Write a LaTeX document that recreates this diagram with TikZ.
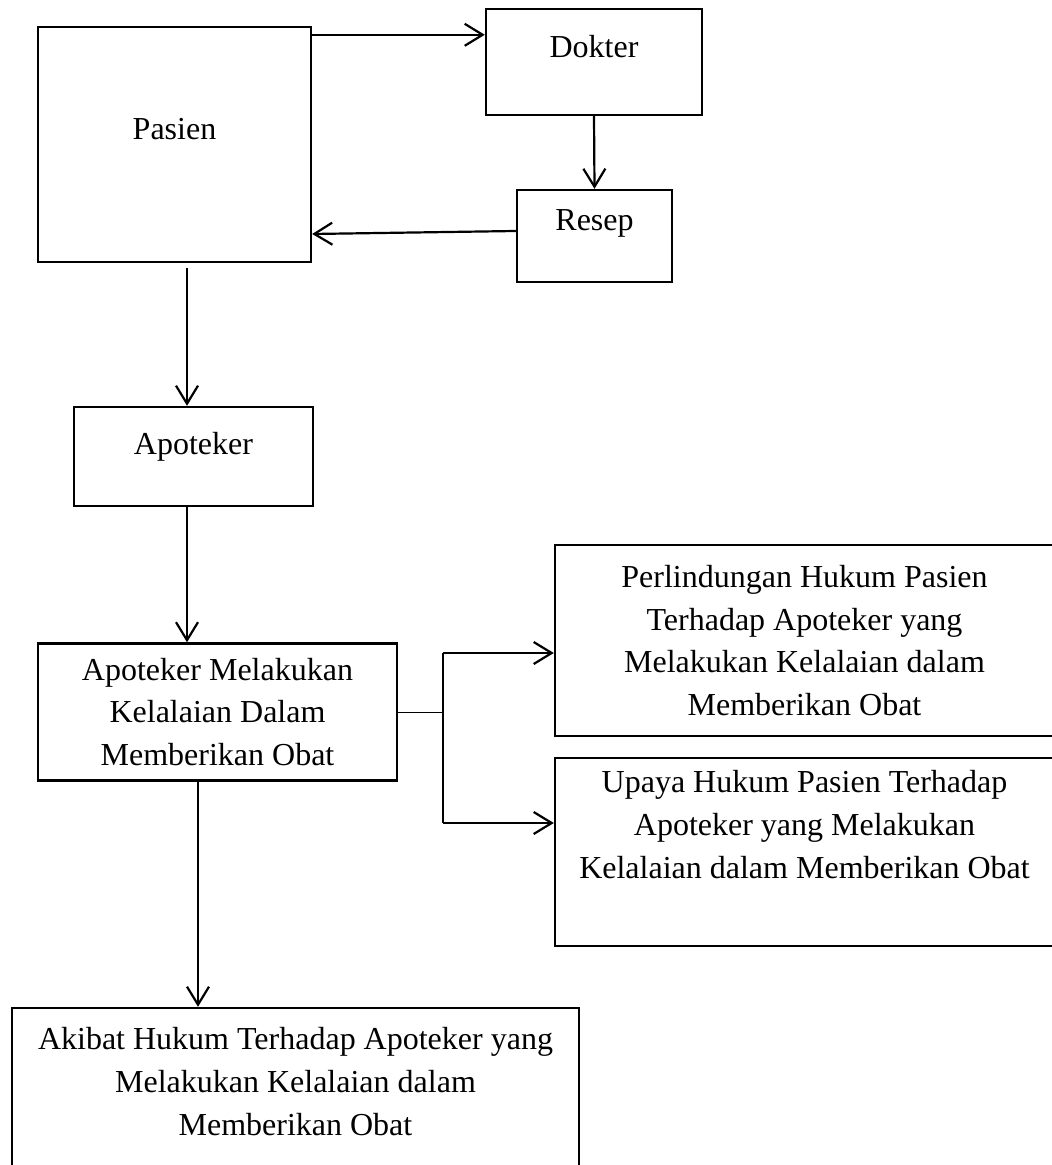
\documentclass[tikz,border=0pt]{standalone}
\usepackage{fontspec}
\setmainfont{Liberation Serif}
\usetikzlibrary{arrows.meta}

\begin{document}
\begin{tikzpicture}[
    x=0.5pt, y=-0.5pt,
    box/.style={draw, line width=1.2pt, inner sep=0pt, font=\fontsize{16pt}{21.3pt}\selectfont},
    multi/.style={box, align=center},
    arr/.style={line width=1.1pt, -{Straight Barb[length=9pt, width=11pt]}},
    link/.style={line width=0.5pt}
]
  \useasboundingbox (0,0) rectangle (1051,1165);

  \node[box, minimum width=136.5pt, text height=56.5pt, text depth=61pt] (pasien) at (174.5,144.5) {Pasien};
  \node[box, minimum width=108pt, text height=24.5pt, text depth=28.5pt] (dokter) at (594,62) {Dokter};
  \node[box, minimum width=77.5pt, text height=20.5pt, text depth=25.5pt] (resep) at (594.5,236) {Resep};
  \node[box, minimum width=119.5pt, text height=23.5pt, text depth=26pt] (apoteker) at (193.5,456.5) {Apoteker};
  \node[multi, minimum width=179.5pt, minimum height=68.5pt] (lalai) at (217.5,712)
    {Apoteker Melakukan\\ Kelalaian Dalam\\ Memberikan Obat};
  \node[multi, minimum width=249.5pt, minimum height=95.5pt] (lindung) at (804.5,640.5)
    {Perlindungan Hukum Pasien\\ Terhadap Apoteker yang\\ Melakukan Kelalaian dalam\\ Memberikan Obat};
  \node[multi, minimum width=249.5pt, minimum height=94pt] (upaya) at (804.5,852)
    {Upaya Hukum Pasien Terhadap\\ Apoteker yang Melakukan\\ Kelalaian dalam Memberikan Obat\\ \strut};
  \node[multi, minimum width=283.5pt, minimum height=101pt] (akibat) at (295.5,1109)
    {Akibat Hukum Terhadap Apoteker yang\\ Melakukan Kelalaian dalam\\ Memberikan Obat\\ \strut};

  \coordinate (fork) at (443,712);
  \coordinate (forkA) at (443,653);
  \coordinate (forkB) at (443,823);

  \draw[arr] ([yshift=-4.5pt]pasien.north east) -- ([yshift=-4.5pt]pasien.north east -| dokter.west);
  \draw[arr] (dokter.south) -- (resep.north);
  \draw[arr] ([yshift=2.5pt]resep.west) -- ([yshift=1pt]pasien.east |- resep.west);
  \draw[arr] ([shift={(6.25pt,-2.5pt)}]pasien.south) -- ([xshift=-3.25pt]apoteker.north);
  \draw[arr] ([xshift=-3.25pt]apoteker.south) -- ([xshift=-3.25pt]apoteker.south |- lalai.north);
  \draw[arr] ([xshift=-9.75pt]lalai.south) -- ([xshift=-9.75pt]lalai.south |- akibat.north);
  \draw[link] (lalai.east) -- (fork);
  \draw[line width=0.75pt] (forkA) -- (forkB);
  \draw[arr] (forkA) -- (forkA -| lindung.west);
  \draw[arr] (forkB) -- (forkB -| upaya.west);
\end{tikzpicture}
\end{document}
